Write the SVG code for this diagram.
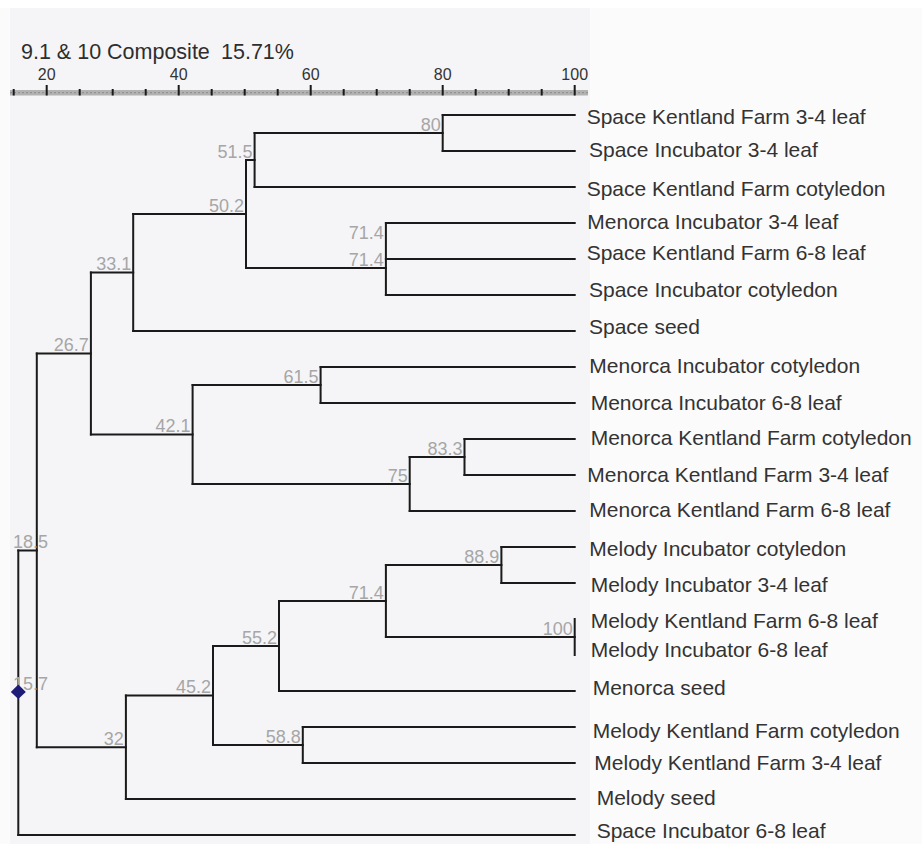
<svg xmlns="http://www.w3.org/2000/svg" width="922" height="844" viewBox="0 0 922 844">
<style>
.bg{fill:#fbfbfb}
.panel{fill:#f5f5f7}
.title{font-family:"Liberation Sans",Arial,sans-serif;font-size:21.5px;fill:#2e2e2e}
.axl{font-family:"Liberation Sans",Arial,sans-serif;font-size:16px;fill:#333333;text-anchor:middle}
.leaf{font-family:"Liberation Sans",Arial,sans-serif;font-size:21px;fill:#333333}
.nv{font-family:"Liberation Sans",Arial,sans-serif;font-size:18px;fill:#a6a6a6;text-anchor:end}
.nvs{font-family:"Liberation Sans",Arial,sans-serif;font-size:18px;fill:#a6a6a6}
.tree{fill:none;stroke:#1a1a1a;stroke-width:2;stroke-linecap:square}
.tick{stroke:#1a1a1a;stroke-width:2}
</style>
<rect class="bg" x="0" y="0" width="922" height="844"/>
<rect x="0" y="0" width="922" height="8" fill="#ffffff"/>
<rect class="panel" x="10" y="8" width="580" height="836"/>
<g id="header">
<text class="title" x="21" y="59">9.1 &amp; 10 Composite</text>
<text class="title" x="221" y="59">15.71%</text>
</g>
<g id="axis">
<text class="axl" x="46.7" y="80">20</text>
<text class="axl" x="178.7" y="80">40</text>
<text class="axl" x="310.7" y="80">60</text>
<text class="axl" x="442.7" y="80">80</text>
<text class="axl" x="574.7" y="80">100</text>
<rect x="10" y="90" width="578" height="5.5" fill="#b2b2b2"/>
<line x1="10" y1="92.7" x2="588" y2="92.7" stroke="#8a8a8a" stroke-width="1" stroke-dasharray="2 2"/>
<path class="tick" d="M46.7 85V95.5M178.7 85V95.5M310.7 85V95.5M442.7 85V95.5M574.7 85V95.5"/>
<path class="tick" d="M13.7 89V95.5M79.7 89V95.5M112.7 89V95.5M145.7 89V95.5M211.7 89V95.5M244.7 89V95.5M277.7 89V95.5M343.7 89V95.5M376.7 89V95.5M409.7 89V95.5M475.7 89V95.5M508.7 89V95.5M541.7 89V95.5"/>
</g>
<g id="connectors">
<path class="tree" d="M442.7 115V151M254.6 133V187M385.9 223V295M246 160V268M133.2 214V331M320.6 367V403M464.5 439V475M409.7 457V511M192.6 385V484M90.9 272.5V434.5M501.4 547V583M574.7 619V655M385.9 565V637M279 601V691M302.8 727V763M213 646V745M125.9 695.5V799M36.8 353.5V747.3M18.3 550.4V835"/>
<path class="tree" d="M442.7 115H574.7M442.7 151H574.7M254.6 133H442.7M254.6 187H574.7M385.9 223H574.7M385.9 259H574.7M385.9 295H574.7M246 160H254.6M246 268H385.9M133.2 214H246M133.2 331H574.7M90.9 272.5H133.2M320.6 367H574.7M320.6 403H574.7M192.6 385H320.6M464.5 439H574.7M464.5 475H574.7M409.7 457H464.5M409.7 511H574.7M192.6 484H409.7M90.9 434.5H192.6M36.8 353.5H90.9M501.4 547H574.7M501.4 583H574.7M385.9 565H501.4M385.9 637H574.7M279 601H385.9M279 691H574.7M213 646H279M302.8 727H574.7M302.8 763H574.7M213 745H302.8M125.9 695.5H213M125.9 799H574.7M36.8 747.3H125.9M18.3 550.4H36.8M18.3 835H574.7"/>
</g>
<g id="n80"><text class="nv" x="440.7" y="130.5">80</text></g>
<g id="n51-5"><text class="nv" x="252.6" y="157.5">51.5</text></g>
<g id="n71-4a"><text class="nv" x="383.9" y="238.5">71.4</text></g>
<g id="n71-4b"><text class="nv" x="383.9" y="265.5">71.4</text></g>
<g id="n50-2"><text class="nv" x="244" y="211.5">50.2</text></g>
<g id="n33-1"><text class="nv" x="131.2" y="270">33.1</text></g>
<g id="n26-7"><text class="nv" x="88.9" y="350.5">26.7</text></g>
<g id="n61-5"><text class="nv" x="318.6" y="382.5">61.5</text></g>
<g id="n42-1"><text class="nv" x="190.6" y="432">42.1</text></g>
<g id="n83-3"><text class="nv" x="462.5" y="454.5">83.3</text></g>
<g id="n75"><text class="nv" x="407.7" y="481.5">75</text></g>
<g id="n18-5"><text class="nvs" x="13" y="547.5">18.5</text></g>
<g id="n88-9"><text class="nv" x="499.4" y="562.5">88.9</text></g>
<g id="n100"><text class="nv" x="572.7" y="634.5">100</text></g>
<g id="n71-4c"><text class="nv" x="383.9" y="598.5">71.4</text></g>
<g id="n55-2"><text class="nv" x="277" y="643.5">55.2</text></g>
<g id="n45-2"><text class="nv" x="211" y="693">45.2</text></g>
<g id="n58-8"><text class="nv" x="300.8" y="742.5">58.8</text></g>
<g id="n32"><text class="nv" x="123.9" y="745">32</text></g>
<g id="n15-7"><text class="nvs" x="13" y="690">15.7</text><polygon points="18.3,684.5 25.8,692 18.3,699 10.8,692" fill="#1c1c78"/></g>
<g id="leaf1"><text class="leaf" x="586.7" y="123.5">Space Kentland Farm 3-4 leaf</text></g>
<g id="leaf2"><text class="leaf" x="589" y="156.5">Space Incubator 3-4 leaf</text></g>
<g id="leaf3"><text class="leaf" x="586.7" y="195.5">Space Kentland Farm cotyledon</text></g>
<g id="leaf4"><text class="leaf" x="587.3" y="228.5">Menorca Incubator 3-4 leaf</text></g>
<g id="leaf5"><text class="leaf" x="586.7" y="259.5">Space Kentland Farm 6-8 leaf</text></g>
<g id="leaf6"><text class="leaf" x="589" y="296.5">Space Incubator cotyledon</text></g>
<g id="leaf7"><text class="leaf" x="589" y="333.5">Space seed</text></g>
<g id="leaf8"><text class="leaf" x="589.3" y="373">Menorca Incubator cotyledon</text></g>
<g id="leaf9"><text class="leaf" x="590.7" y="410">Menorca Incubator 6-8 leaf</text></g>
<g id="leaf10"><text class="leaf" x="590.7" y="445">Menorca Kentland Farm cotyledon</text></g>
<g id="leaf11"><text class="leaf" x="587.3" y="481.5">Menorca Kentland Farm 3-4 leaf</text></g>
<g id="leaf12"><text class="leaf" x="589.3" y="516.5">Menorca Kentland Farm 6-8 leaf</text></g>
<g id="leaf13"><text class="leaf" x="589.3" y="556">Melody Incubator cotyledon</text></g>
<g id="leaf14"><text class="leaf" x="590.7" y="591.5">Melody Incubator 3-4 leaf</text></g>
<g id="leaf15"><text class="leaf" x="590.7" y="628">Melody Kentland Farm 6-8 leaf</text></g>
<g id="leaf16"><text class="leaf" x="590.7" y="656.5">Melody Incubator 6-8 leaf</text></g>
<g id="leaf17"><text class="leaf" x="592.7" y="695">Menorca seed</text></g>
<g id="leaf18"><text class="leaf" x="592.7" y="738">Melody Kentland Farm cotyledon</text></g>
<g id="leaf19"><text class="leaf" x="594.3" y="770">Melody Kentland Farm 3-4 leaf</text></g>
<g id="leaf20"><text class="leaf" x="596.7" y="805">Melody seed</text></g>
<g id="leaf21"><text class="leaf" x="596.7" y="838">Space Incubator 6-8 leaf</text></g>
</svg>
